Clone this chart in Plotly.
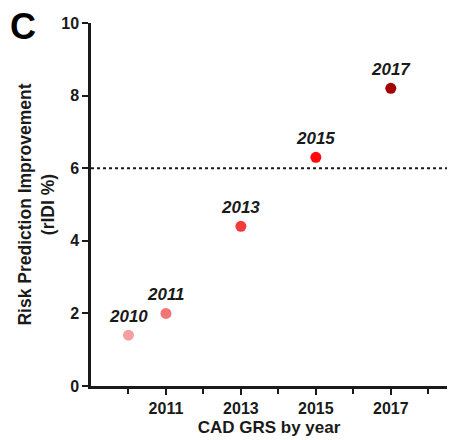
import plotly.graph_objects as go

# GRS publication years and the relative IDI improvement of each
years = [2010, 2011, 2013, 2015, 2017]
ridi = [1.4, 2.0, 4.4, 6.3, 8.2]
labels = ["2010", "2011", "2013", "2015", "2017"]
colors = ["#F5A0A0", "#F47575", "#F23B3B", "#FF0A0A", "#A50000"]

x_ticks = [2011, 2013, 2015, 2017]
y_ticks = [0, 2, 4, 6, 8, 10]
threshold = 6

FONT = "Liberation Sans, Arial, sans-serif"
INK = "#1a1a1a"

fig = go.Figure()

fig.add_trace(go.Scatter(
    x=years, y=ridi, mode="markers",
    marker=dict(size=11, color=colors, line=dict(width=0)),
    showlegend=False, hoverinfo="skip",
))

# dotted reference line across the full x range
fig.add_shape(type="line", xref="x", yref="y",
              x0=2009, x1=2018.5, y0=threshold, y1=threshold,
              line=dict(color=INK, width=2, dash="dot"))

for x, y, t in zip(years, ridi, labels):
    fig.add_annotation(x=x, y=y, text=f"<b><i>{t}</i></b>", showarrow=False,
                       yshift=19, font=dict(family=FONT, size=17, color=INK))

# panel letter
fig.add_annotation(xref="paper", yref="paper", x=-0.19, y=0.99,
                   xanchor="center", yanchor="middle", showarrow=False,
                   text="<b>C</b>", font=dict(family=FONT, size=36, color="#000"))

fig.update_layout(
    width=460, height=440,
    margin=dict(l=91, r=13, t=23, b=54),
    plot_bgcolor="white", paper_bgcolor="white",
    font=dict(family=FONT, color=INK),
)

fig.update_xaxes(
    range=[2009, 2018.5], tickvals=x_ticks, ticktext=[str(v) for v in x_ticks],
    automargin=False,
    showgrid=False, zeroline=False, showline=True, linecolor=INK, linewidth=2.5,
    ticks="outside", ticklen=6, tickwidth=2, tickcolor=INK,
    tickfont=dict(family=FONT, size=16, color=INK, weight="bold"),
    minor=dict(tickvals=[2010, 2012, 2014, 2016, 2018], ticks="outside",
               ticklen=5, tickwidth=2, tickcolor=INK),
    title=dict(text="<b>CAD GRS by year</b>", standoff=6,
               font=dict(family=FONT, size=17, color=INK)),
)

fig.update_yaxes(
    range=[0, 10], tickvals=y_ticks,
    automargin=False,
    showgrid=False, zeroline=False, showline=True, linecolor=INK, linewidth=2.5,
    ticks="outside", ticklen=6, tickwidth=2, tickcolor=INK,
    tickfont=dict(family=FONT, size=16, color=INK, weight="bold"),
    title=dict(text="<b>Risk Prediction Improvement<br>(rIDI %)</b>", standoff=3,
               font=dict(family=FONT, size=17.5, color=INK)),
)

fig.write_html("out.html")
